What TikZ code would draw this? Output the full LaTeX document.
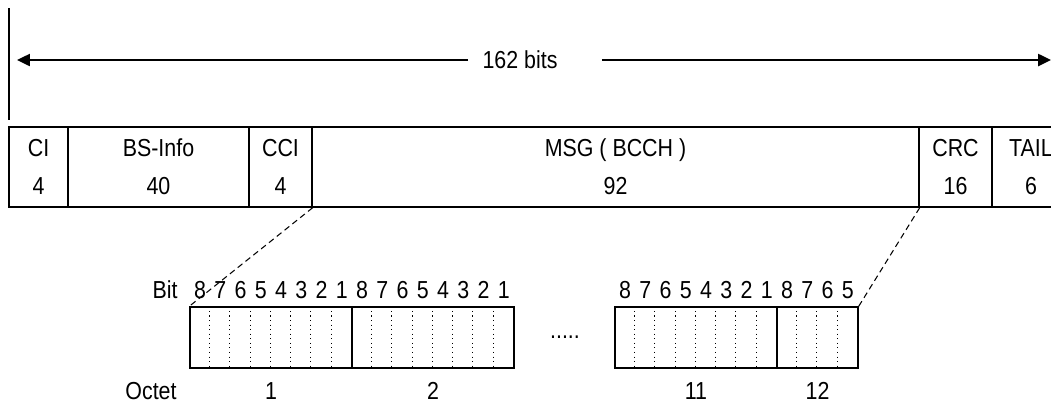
\documentclass[tikz,border=0pt]{standalone}
\usepackage{fontspec}
\setmainfont{Liberation Sans}[FakeStretch=0.87]
\usetikzlibrary{arrows.meta, positioning}

\begin{document}
\begin{tikzpicture}[
  x=0.02cm, y=-0.02cm,
  every node/.style={font=\fontsize{14}{21.6}\selectfont, inner sep=0pt},
  field/.style={rectangle, draw, line width=0.8pt, minimum height=1.6cm, align=center},
  octet/.style={rectangle, draw, line width=0.8pt, minimum height=1.22cm},
  bitno/.style={font=\fontsize{14}{16}\selectfont},
  lenarrow/.style={line width=1.4pt, -{Triangle[length=0.26cm, width=0.24cm]}},
  zoomline/.style={line width=0.6pt, dash pattern=on 0.12cm off 0.08cm}
]
  \clip (0,0) rectangle (1051,403);

  \foreach \n/\l/\r/\t/\b in {ci/9/68/CI/4, bsinfo/68/249/BS-Info/40, cci/249/312/CCI/4,
      msg/312/919/MSG ( BCCH )/92, crc/919/992/CRC/16, tail/992/1070/TAIL/6}{
    \node[field, minimum width={(\r-\l)*0.02cm}] (\n) at ({(\l+\r)/2},167) {\t\\\b};
  }

  \draw[line width=0.8pt] (9,8) -- (9,120);
  \node (len) at (520,60) {162 bits};
  \coordinate (lend) at (17,60);
  \coordinate (rend) at (1051,60);
  \draw[lenarrow] ([xshift=-0.28cm]len.west) -- (lend);
  \draw[lenarrow] ([xshift=0.88cm]len.east) -- (rend);

  \foreach \n/\l/\k/\t in {oct1/190/8/1, oct2/352/8/2, oct11/615/8/11, oct12/777/4/12}{
    \node[octet, minimum width={\k*0.405cm}] (\n) at ({\l+\k*10.125},337.5) {};
    \foreach \i [evaluate=\i as \d using {int(9-\i)}] in {1,...,\k}{
      \node[bitno] (\n-b\i) at ({\l+(\i-0.5)*20.25},290) {\d};
    }
    \pgfmathtruncatemacro\last{\k-1}
    \foreach \i in {1,...,\last}{
      \draw[line width=0.6pt, dotted] ([xshift={\i*0.405cm}]\n.north west) -- ([xshift={\i*0.405cm}]\n.south west);
    }
    \node[bitno] (\n-lab) at ([yshift=-0.44cm]\n.south) {\t};
  }

  \node[bitno] (bit) at (165,290) {Bit};
  \node[bitno] (octet) at (151,391) {Octet};
  \node[bitno] (gap) at (565,337) {.....};

  \draw[zoomline] (cci.south east) -- (oct1.north west);
  \draw[zoomline] (msg.south east) -- (oct12.north east);
\end{tikzpicture}
\end{document}
